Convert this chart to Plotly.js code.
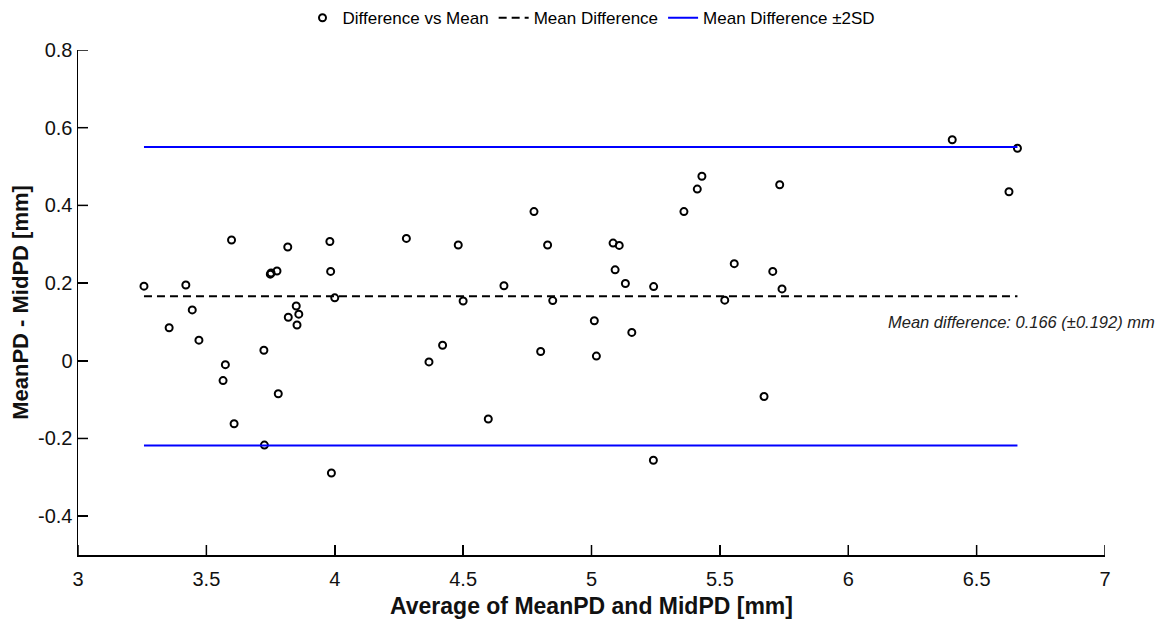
<!DOCTYPE html>
<html>
<head>
<meta charset="utf-8">
<script src="https://cdn.plot.ly/plotly-3.0.1.min.js"></script>
<style>html,body{margin:0;padding:0;background:#fff;}#chart{width:1161px;height:619px;}</style>
</head>
<body>
<div id="chart"></div>
<script>
// Data
const meanValues = [3.257, 3.42, 3.355, 3.445, 3.471, 3.598, 3.574, 3.565, 3.608, 3.724,
  3.726, 3.749, 3.752, 3.775, 3.780, 3.817, 3.819, 3.850, 3.860, 3.853,
  3.981, 3.984, 4.000, 3.987, 4.279, 4.481, 4.500, 4.367, 4.420, 4.598,
  4.659, 4.776, 4.802, 4.829, 4.849, 5.011, 5.019, 5.084, 5.108, 5.092,
  5.132, 5.157, 5.242, 5.241, 5.360, 5.412, 5.430, 5.733, 5.556, 5.519,
  5.706, 5.742, 5.672, 6.405, 6.659, 6.626];
const diffValues = [0.192, 0.195, 0.085, 0.131, 0.053, 0.311, -0.010, -0.051, -0.162, 0.027,
  -0.217, 0.223, 0.226, 0.231, -0.085, 0.293, 0.112, 0.141, 0.120, 0.092,
  0.307, 0.230, 0.162, -0.289, 0.315, 0.298, 0.154, -0.003, 0.040, -0.150,
  0.193, 0.384, 0.024, 0.298, 0.155, 0.103, 0.012, 0.303, 0.297, 0.234,
  0.199, 0.073, 0.191, -0.256, 0.384, 0.442, 0.475, 0.453, 0.250, 0.156,
  0.230, 0.185, -0.092, 0.569, 0.547, 0.435];
const meanDiff = 0.166;
const sdDiff = 0.192;
const lineX = [3.257, 6.659];
const xTicks = [3, 3.5, 4, 4.5, 5, 5.5, 6, 6.5, 7];
const xTickText = ["3", "3.5", "4", "4.5", "5", "5.5", "6", "6.5", "7"];
const yTicks = [-0.4, -0.2, 0, 0.2, 0.4, 0.6, 0.8];
const yTickText = ["-0.4", "-0.2", "0", "0.2", "0.4", "0.6", "0.8"];
const legendNames = ["Difference vs Mean", "Mean Difference", "Mean Difference \u00b12SD"];
const annotationText = "Mean difference: 0.166 (\u00b10.192) mm";

const upper = meanDiff + 2 * sdDiff;
const lower = meanDiff - 2 * sdDiff;

const W = 1161, H = 619;
const M = {l: 78, r: 56, t: 50, b: 64};
const plotW = W - M.l - M.r, plotH = H - M.t - M.b;
const TICK = 10;

const traces = [
  {x: meanValues, y: diffValues, type: 'scatter', mode: 'markers', name: legendNames[0],
   marker: {symbol: 'circle-open', size: 7, color: '#000', line: {width: 2, color: '#000'}}},
  {x: lineX, y: [meanDiff, meanDiff], type: 'scatter', mode: 'lines', name: legendNames[1],
   line: {color: '#000', width: 2, dash: '8px,5px'}},
  {x: lineX, y: [upper, upper], type: 'scatter', mode: 'lines', name: legendNames[2],
   line: {color: '#0000ff', width: 2}},
  {x: lineX, y: [lower, lower], type: 'scatter', mode: 'lines', showlegend: false,
   line: {color: '#0000ff', width: 2}}
];

// inward tick marks, placed through the axes at the tick values
const tickShapes = [];
xTicks.forEach(v => tickShapes.push({type: 'line', xref: 'x', yref: 'paper', x0: v, x1: v,
  y0: 0, y1: TICK / plotH, line: {color: '#000', width: 1.5}}));
yTicks.forEach(v => tickShapes.push({type: 'line', xref: 'paper', yref: 'y', x0: 0, x1: TICK / plotW,
  y0: v, y1: v, line: {color: '#000', width: 1.5}}));

const layout = {
  width: W, height: H,
  margin: {l: M.l, r: M.r, t: M.t, b: M.b, autoexpand: false},
  paper_bgcolor: '#fff', plot_bgcolor: '#fff',
  font: {family: 'Liberation Sans, Arial, sans-serif', color: '#000'},
  showlegend: true,
  legend: {orientation: 'h', x: 0.5, xanchor: 'center', y: 1.063, yanchor: 'middle',
    font: {size: 17, color: '#000'}, itemwidth: 30, tracegroupgap: 0},
  xaxis: {range: [3, 7], tickvals: xTicks, ticktext: xTickText, ticks: 'inside', ticklen: TICK,
    tickwidth: 1.5, tickcolor: '#000', showline: true, linecolor: '#000', linewidth: 1.5,
    showgrid: false, zeroline: false, tickfont: {size: 20, color: '#111'}, ticklabelstandoff: 5,
    title: {text: 'Average of MeanPD and MidPD [mm]', font: {size: 23, color: '#111', weight: 'bold'}, standoff: 12}},
  yaxis: {range: [-0.5, 0.8], tickvals: yTicks, ticktext: yTickText, ticks: 'inside', ticklen: TICK,
    tickwidth: 1.5, tickcolor: '#000', showline: true, linecolor: '#000', linewidth: 1.5,
    showgrid: false, zeroline: false, tickfont: {size: 20, color: '#111'},
    title: {text: 'MeanPD - MidPD [mm]', font: {size: 22, color: '#111', weight: 'bold'}, standoff: 3}},
  shapes: tickShapes,
  annotations: [{
    xref: 'paper', yref: 'y', x: 1.051, y: meanDiff, xanchor: 'right', yanchor: 'middle', yshift: -26,
    text: '<i>' + annotationText + '</i>', showarrow: false, font: {size: 16.5, color: '#222'}
  }]
};

Plotly.newPlot('chart', traces, layout, {displayModeBar: false, staticPlot: true});
</script>
</body>
</html>
